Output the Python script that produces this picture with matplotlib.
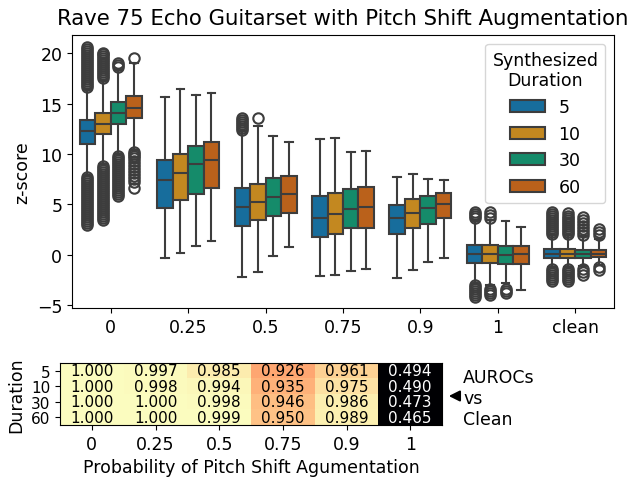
import numpy as np
import matplotlib
matplotlib.use("Agg")
import matplotlib.pyplot as plt
from matplotlib.patches import Patch, FancyArrowPatch
import seaborn as sns

plt.rcParams["font.family"] = "DejaVu Sans"
plt.rcParams["font.size"] = 12.5

## Donnees
groups = ["0", "0.25", "0.5", "0.75", "0.9", "1", "clean"]
durations = ["5", "10", "30", "60"]

# stats par groupe puis par duree : (whislo, q1, med, q3, whishi)
box_stats = [
    [(7.8, 11.0, 12.3, 13.4, 16.4), (9.0, 12.0, 13.0, 14.1, 17.3),
     (10.0, 13.0, 14.1, 15.1, 18.3), (10.4, 13.6, 14.6, 15.7, 19.0)],
    [(-0.3, 4.6, 7.4, 9.4, 15.6), (0.2, 5.4, 8.1, 10.0, 16.4),
     (0.9, 6.0, 9.0, 10.8, 15.8), (1.4, 6.6, 9.4, 11.2, 16.0)],
    [(-2.2, 2.8, 4.7, 6.6, 12.3), (-1.7, 3.4, 5.2, 7.0, 12.8),
     (-0.1, 3.8, 5.7, 7.6, 11.8), (0.8, 4.1, 6.0, 7.8, 11.2)],
    [(-2.1, 1.7, 3.6, 5.8, 11.5), (-2.0, 2.0, 4.0, 6.1, 11.6),
     (-1.6, 2.6, 4.5, 6.5, 10.2), (-1.4, 2.6, 4.7, 6.7, 10.3)],
    [(-2.3, 2.0, 3.6, 4.9, 7.7), (-1.5, 2.6, 4.1, 5.5, 8.0),
     (-0.7, 3.0, 4.6, 5.8, 7.5), (-0.3, 3.6, 5.0, 6.1, 7.4)],
    [(-2.9, -0.8, 0.1, 1.0, 3.4), (-3.0, -0.8, 0.1, 1.0, 3.4),
     (-2.8, -0.9, 0.0, 0.9, 3.3), (-3.5, -0.9, 0.1, 0.9, 2.7)],
    [(-1.2, -0.3, 0.1, 0.6, 1.9), (-1.2, -0.3, 0.1, 0.6, 1.9),
     (-1.1, -0.3, 0.1, 0.5, 1.8), (-1.0, -0.2, 0.1, 0.5, 1.5)],
]

# valeurs aberrantes (outliers) par groupe puis par duree
fliers = [
    [[2.9, 3.1, 3.3, 3.5, 3.7, 3.9, 4.1, 4.3, 4.5, 4.7, 4.9, 5.1, 5.3, 5.5, 5.7, 5.9,
      6.1, 6.3, 6.5, 6.7, 6.9, 7.1, 7.3, 7.5, 7.7,
      16.6, 16.8, 17.0, 17.2, 17.4, 17.6, 17.8, 18.0, 18.2, 18.4, 18.6, 18.8,
      19.0, 19.2, 19.4, 19.6, 19.8, 20.0, 20.2, 20.4, 20.6],
     [3.4, 3.6, 3.8, 4.0, 4.2, 4.4, 4.6, 4.8, 5.0, 5.2, 5.4, 5.6, 5.8, 6.0, 6.2, 6.4,
      6.6, 6.8, 7.0, 7.2, 7.4, 7.6, 7.8, 8.0, 8.2, 8.4, 8.6, 8.8,
      17.5, 17.7, 17.9, 18.1, 18.3, 18.5, 18.7, 18.9, 19.1, 19.3, 19.5, 19.7, 19.9, 20.0],
     [5.8, 6.0, 6.2, 6.4, 6.6, 6.8, 7.0, 7.2, 7.4, 7.6, 7.8, 8.0, 8.2, 8.4, 8.6, 8.8,
      9.0, 9.2, 9.4, 9.6, 9.8, 18.6, 18.8, 19.0],
     [6.6, 7.2, 7.5, 7.8, 8.1, 8.4, 8.7, 9.0, 9.3, 9.6, 9.8, 10.0, 10.2, 19.5]],
    [[], [], [], []],
    [[12.4, 12.6, 12.8, 13.0, 13.2, 13.4, 13.6], [13.6], [], []],
    [[], [], [], []],
    [[], [], [], []],
    [[-4.2, -4.0, -3.8, -3.6, -3.4, -3.2, -3.0, 3.6, 3.8, 4.0, 4.2],
     [-4.0, -3.8, -3.6, -3.4, 3.6, 3.9, 4.2],
     [-3.8, -3.6, -3.4], []],
    [[-2.6, -2.4, -2.2, -2.0, -1.8, -1.6, -1.4, 2.0, 2.2, 2.4, 2.6, 2.8, 3.0, 3.2,
      3.4, 3.6, 3.8, 4.0, 4.2],
     [-2.6, -2.4, -2.2, -2.0, -1.8, -1.6, -1.4, 2.0, 2.2, 2.4, 2.6, 2.8, 3.0, 3.2,
      3.4, 3.6, 3.8, 4.1],
     [-2.0, -1.7, -1.4, 1.9, 2.2, 2.5, 2.8, 3.1, 3.4, 3.7],
     [-1.5, -1.2, 1.9, 2.2, 2.5]],
]

heat_cols = ["0", "0.25", "0.5", "0.75", "0.9", "1"]
auroc = np.array([
    [1.000, 0.997, 0.985, 0.926, 0.961, 0.494],
    [1.000, 0.998, 0.994, 0.935, 0.975, 0.490],
    [1.000, 1.000, 0.998, 0.946, 0.986, 0.473],
    [1.000, 1.000, 0.999, 0.950, 0.989, 0.465],
])

colors = sns.color_palette("colorblind", 4, desat=0.75)
line_col = "#3d3d3d"
W, H = 633, 481

fig = plt.figure(figsize=(W / 100, H / 100), dpi=100)
ax = fig.add_axes([72 / W, 1 - 309 / H, (614 - 72) / W, (309 - 36) / H])

offsets = [-0.3, -0.1, 0.1, 0.3]
for i, g in enumerate(groups):
    for j in range(len(durations)):
        lo, q1, med, q3, hi = box_stats[i][j]
        st = [dict(whislo=lo, q1=q1, med=med, q3=q3, whishi=hi, fliers=fliers[i][j])]
        ax.bxp(st, positions=[i + offsets[j]], widths=0.2, patch_artist=True,
               manage_ticks=False,
               boxprops=dict(facecolor=colors[j], edgecolor=line_col, linewidth=1.5),
               medianprops=dict(color=line_col, linewidth=1.5),
               whiskerprops=dict(color=line_col, linewidth=1.5),
               capprops=dict(color=line_col, linewidth=1.5),
               flierprops=dict(marker="o", markerfacecolor="none",
                               markeredgecolor=line_col, markersize=7.5, markeredgewidth=1.5))

ax.set_xticks(range(len(groups)))
ax.set_xticklabels(groups)
ax.set_xlim(-0.5, len(groups) - 0.5)
ax.set_ylim(-5.3, 21.8)
ax.set_ylabel("z-score")
ax.set_title("Rave 75 Echo Guitarset with Pitch Shift Augmentation", fontsize=15.3, pad=8)

handles = [Patch(facecolor=colors[j], edgecolor=line_col, linewidth=1.5, label=d)
           for j, d in enumerate(durations)]
leg = ax.legend(handles=handles, title="Synthesized\nDuration", loc="upper right",
                title_fontsize=12.5)
leg.get_title().set_multialignment("center")

# heatmap des AUROCs
axh = fig.add_axes([60 / W, 1 - 426 / H, (442 - 60) / W, (426 - 364) / H])
vmin, vmax = 0.6, 1.0
axh.imshow(auroc, cmap="magma", aspect="auto", vmin=vmin, vmax=vmax)
for r in range(auroc.shape[0]):
    for c in range(auroc.shape[1]):
        v = auroc[r, c]
        col = "white" if (v - vmin) / (vmax - vmin) < 0.5 else "black"
        axh.text(c, r, f"{v:.3f}", ha="center", va="center", color=col, fontsize=11)
axh.set_xticks(range(len(heat_cols)))
axh.set_xticklabels(heat_cols)
axh.set_yticks(range(len(durations)))
axh.set_yticklabels(durations, fontsize=11)
axh.set_ylabel("Duration")
axh.set_xlabel("Probability of Pitch Shift Agumentation")

fig.text(463 / W, 1 - 399 / H, "AUROCs\nvs\nClean", ha="left", va="center")
fig.patches.append(FancyArrowPatch(
    (460 / W, 1 - 397 / H), (446 / W, 1 - 397 / H), transform=fig.transFigure,
    arrowstyle="-|>", mutation_scale=16, color="black", linewidth=1.5))

plt.savefig("out.png", dpi=100)
